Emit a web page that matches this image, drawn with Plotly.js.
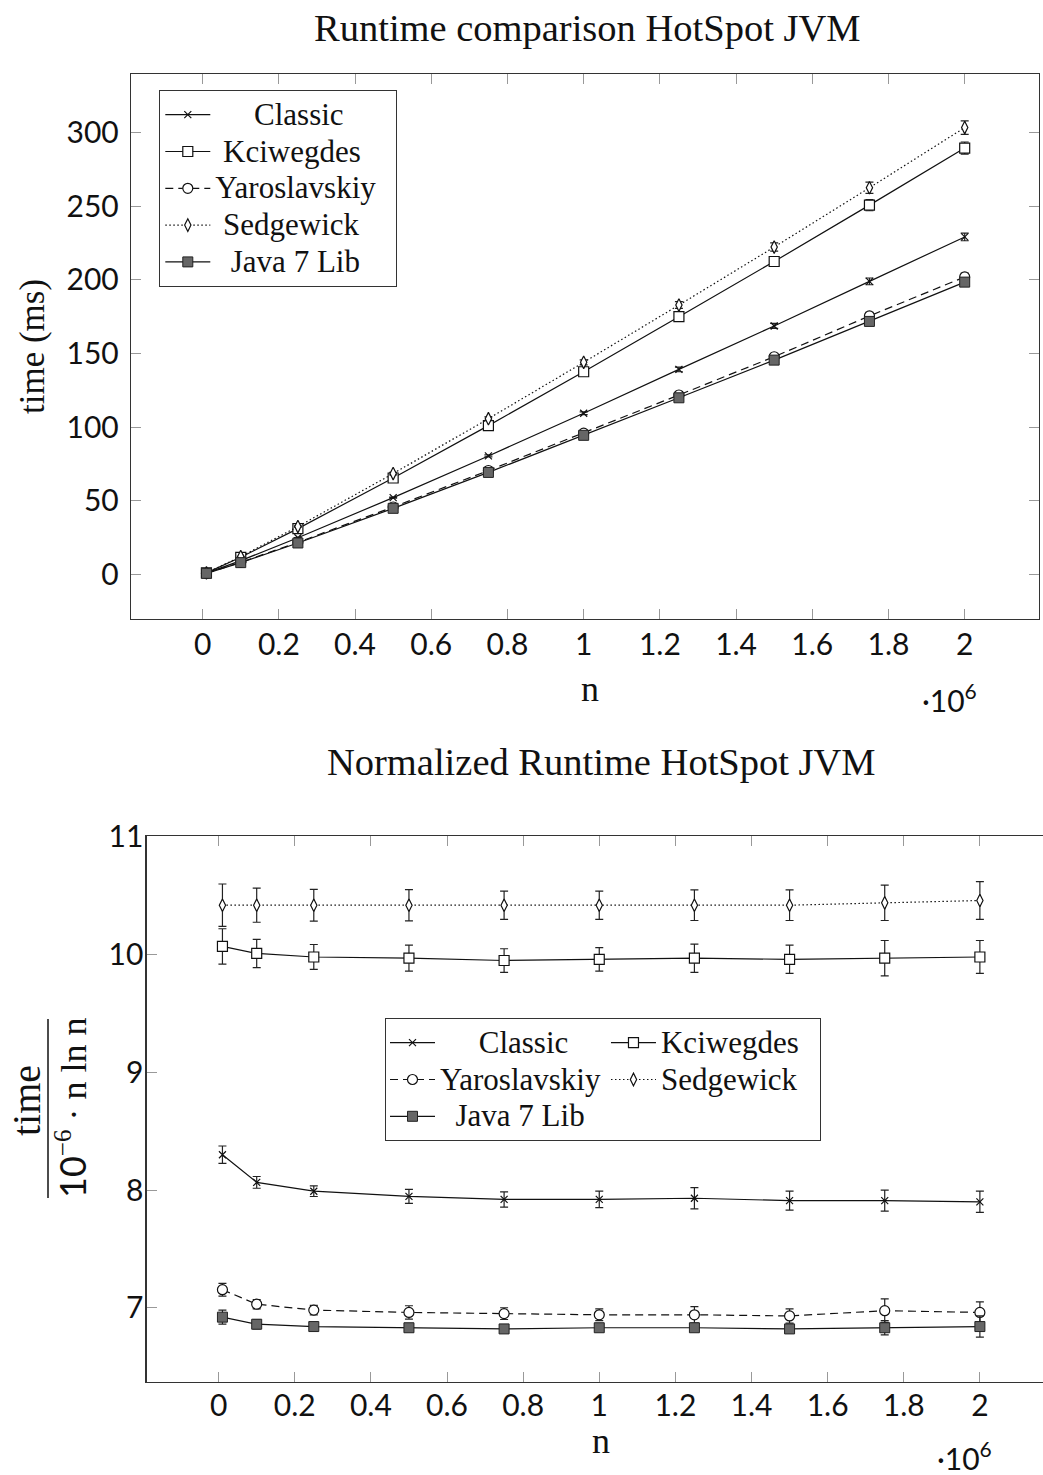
<!DOCTYPE html>
<html>
<head>
<meta charset="utf-8">
<script src="https://cdn.plot.ly/plotly-3.0.1.min.js"></script>
<style>
html, body { margin:0; padding:0; overflow:hidden; background:#fff; }
#chart { width:1100px; height:1475px; }
</style>
</head>
<body>
<div id="chart"></div>
<script>
// ---------- data ----------
const nValues = [10000, 100000, 250000, 500000, 750000, 1000000, 1250000, 1500000, 1750000, 2000000];
const xTickVals = [0, 200000, 400000, 600000, 800000, 1000000, 1200000, 1400000, 1600000, 1800000, 2000000];
const xTickText = ['0', '0.2', '0.4', '0.6', '0.8', '1', '1.2', '1.4', '1.6', '1.8', '2'];
const yTickValsTop = [0, 50, 100, 150, 200, 250, 300];
const yTickValsBottom = [7, 8, 9, 10, 11];
const seriesNames = ['Classic', 'Kciwegdes', 'Yaroslavskiy', 'Sedgewick', 'Java 7 Lib'];

// Runtime (ms)
const classicMs      = [0.76, 9.29, 24.8, 52.1, 80.4, 109.4, 139.2, 168.7, 199.0, 229.2];
const classicMsErr   = [0.01, 0.06, 0.14, 0.39, 0.66, 0.97, 1.6, 1.7, 2.3, 2.6];
const kciwegdesMs    = [0.93, 11.5, 31.0, 65.4, 101.0, 137.6, 175.0, 212.5, 250.8, 289.6];
const kciwegdesMsErr = [0.01, 0.14, 0.33, 0.72, 1.0, 1.4, 2.1, 2.6, 3.8, 4.1];
const yaroMs         = [0.66, 8.09, 21.7, 45.7, 70.5, 95.9, 121.8, 147.8, 175.5, 202.0];
const yaroMsErr      = [0.01, 0.05, 0.12, 0.37, 0.5, 0.7, 1.2, 1.3, 2.5, 2.6];
const sedgewickMs    = [0.96, 12.0, 32.4, 68.4, 105.7, 144.0, 182.9, 222.3, 262.6, 303.5];
const sedgewickMsErr = [0.02, 0.17, 0.42, 0.87, 1.2, 1.7, 2.3, 2.8, 3.8, 4.6];
const javaMs         = [0.64, 7.90, 21.25, 44.8, 69.2, 94.4, 119.9, 145.5, 171.8, 198.5];
const javaMsErr      = [0.01, 0.05, 0.09, 0.2, 0.3, 0.4, 0.5, 0.6, 1.5, 2.6];

// Normalized runtime: time / (1e-6 * n ln n)
const classicNorm      = [8.30, 8.065, 7.99, 7.946, 7.92, 7.92, 7.93, 7.91, 7.91, 7.90];
const classicNormErr   = [0.074, 0.05, 0.045, 0.06, 0.065, 0.07, 0.09, 0.08, 0.09, 0.09];
const kciwegdesNorm    = [10.07, 10.01, 9.98, 9.97, 9.95, 9.96, 9.97, 9.96, 9.97, 9.98];
const kciwegdesNormErr = [0.15, 0.12, 0.106, 0.11, 0.10, 0.10, 0.12, 0.12, 0.15, 0.14];
const yaroNorm         = [7.153, 7.03, 6.98, 6.96, 6.95, 6.94, 6.94, 6.93, 6.975, 6.96];
const yaroNormErr      = [0.054, 0.04, 0.04, 0.057, 0.05, 0.05, 0.07, 0.06, 0.10, 0.09];
const sedgewickNorm    = [10.42, 10.42, 10.42, 10.42, 10.42, 10.42, 10.42, 10.42, 10.44, 10.46];
const sedgewickNormErr = [0.18, 0.145, 0.135, 0.133, 0.12, 0.12, 0.13, 0.13, 0.15, 0.16];
const javaNorm         = [6.92, 6.86, 6.84, 6.83, 6.82, 6.83, 6.83, 6.82, 6.83, 6.84];
const javaNormErr      = [0.06, 0.04, 0.03, 0.03, 0.03, 0.03, 0.03, 0.03, 0.06, 0.09];

// ---------- styles ----------
const INK = '#111';
const SERIF = 'Liberation Serif, serif';
const SANS = 'Lato, sans-serif';
const styles = [
  { line: {color: INK, width: 1.2, dash: 'solid'},
    marker: {symbol: 'x-thin-open', size: 7, color: INK, line: {color: INK, width: 1.2}} },
  { line: {color: INK, width: 1.2, dash: 'solid'},
    marker: {symbol: 'square', size: 10, color: '#fff', line: {color: INK, width: 1.2}} },
  { line: {color: INK, width: 1.2, dash: '8px,5px'},
    marker: {symbol: 'circle', size: 10, color: '#fff', line: {color: INK, width: 1.2}} },
  { line: {color: INK, width: 1.2, dash: '1.5px,2.5px'},
    marker: {symbol: 'diamond-tall', size: 9, color: '#fff', line: {color: INK, width: 1.2}} },
  { line: {color: INK, width: 1.2, dash: 'solid'},
    marker: {symbol: 'square', size: 10, color: '#666', line: {color: '#222', width: 1}} }
];
const NB = '\u00a0';
function label(name, lead, trail) {
  return '<span style="font-size:31px">' + NB.repeat(lead) + name + trail + '</span>';
}
const padTop = [[5, ''], [1, ''], [0, NB + '\u2009'], [1, ''], [2, '']];
const padBottom = [[5, ''], [0, NB + NB], [0, ''], [0, ''], [2, '']];
const groupBottom = ['g1', 'g2', 'g1', 'g2', 'g1'];

const topY = [classicMs, kciwegdesMs, yaroMs, sedgewickMs, javaMs];
const topErr = [classicMsErr, kciwegdesMsErr, yaroMsErr, sedgewickMsErr, javaMsErr];
const botY = [classicNorm, kciwegdesNorm, yaroNorm, sedgewickNorm, javaNorm];
const botErr = [classicNormErr, kciwegdesNormErr, yaroNormErr, sedgewickNormErr, javaNormErr];

const traces = [];
for (let i = 0; i < 5; i++) {
  traces.push({
    type: 'scatter', mode: 'lines+markers', x: nValues, y: topY[i],
    name: label(seriesNames[i], padTop[i][0], padTop[i][1]),
    xaxis: 'x', yaxis: 'y', legend: 'legend',
    line: styles[i].line, marker: styles[i].marker,
    error_y: {type: 'data', array: topErr[i], visible: true, color: '#222', thickness: 1.2, width: 4}
  });
}
for (let i = 0; i < 5; i++) {
  traces.push({
    type: 'scatter', mode: 'lines+markers', x: nValues, y: botY[i],
    name: label(seriesNames[i], padBottom[i][0], padBottom[i][1]),
    xaxis: 'x2', yaxis: 'y2', legend: 'legend2', legendgroup: groupBottom[i],
    line: styles[i].line, marker: styles[i].marker,
    error_y: {type: 'data', array: botErr[i], visible: true, color: '#222', thickness: 1.2, width: 4}
  });
}

// ---------- layout ----------
const W = 1100, H = 1475;
const px = v => v / W;
const py = v => 1 - v / H;

function axisBase() {
  return {
    showgrid: false, zeroline: false, showline: true, linecolor: '#333', linewidth: 1.3,
    mirror: 'all', ticks: 'inside', ticklen: 10, tickwidth: 1, tickcolor: '#999',
    tickfont: {family: SANS, size: 30, color: INK}
  };
}

const layout = {
  width: W, height: H,
  margin: {l: 0, r: 0, t: 0, b: 0},
  paper_bgcolor: '#fff', plot_bgcolor: '#fff',
  showlegend: true,
  xaxis: Object.assign(axisBase(), {
    domain: [px(131), px(1039)], anchor: 'y',
    range: [-188000, 2195000], tickvals: xTickVals, ticktext: xTickText, ticklabelstandoff: -1
  }),
  yaxis: Object.assign(axisBase(), {
    domain: [py(619), py(74)], anchor: 'x',
    range: [-30.4, 339.9], tickvals: yTickValsTop, ticklabelstandoff: 5
  }),
  xaxis2: Object.assign(axisBase(), {
    domain: [px(146.7), px(1056)], anchor: 'y2',
    range: [-189000, 2200000], tickvals: xTickVals, ticktext: xTickText, ticklabelstandoff: -3
  }),
  yaxis2: Object.assign(axisBase(), {
    domain: [py(1382), py(836)], anchor: 'x2',
    range: [6.369, 11.008], tickvals: yTickValsBottom, ticklabelstandoff: -4
  }),
  legend: {
    x: px(159), y: py(90), xanchor: 'left', yanchor: 'top', xref: 'paper', yref: 'paper',
    orientation: 'v', bgcolor: '#fff', bordercolor: '#333', borderwidth: 1.3,
    font: {family: SERIF, size: 26, color: INK}, itemwidth: 45, traceorder: 'normal'
  },
  legend2: {
    x: px(385), y: py(1018), xanchor: 'left', yanchor: 'top', xref: 'paper', yref: 'paper',
    orientation: 'h', bgcolor: '#fff', bordercolor: '#333', borderwidth: 1.3,
    font: {family: SERIF, size: 26, color: INK}, itemwidth: 45, traceorder: 'grouped', tracegroupgap: 0
  },
  annotations: [
    {text: 'Runtime comparison HotSpot JVM', x: px(587), y: py(28), xref: 'paper', yref: 'paper',
     showarrow: false, xanchor: 'center', yanchor: 'middle', font: {family: SERIF, size: 38.5, color: INK}},
    {text: 'Normalized Runtime HotSpot JVM', x: px(601), y: py(762), xref: 'paper', yref: 'paper',
     showarrow: false, xanchor: 'center', yanchor: 'middle', font: {family: SERIF, size: 38.5, color: INK}},
    {text: 'time (ms)', x: px(32), y: py(347), xref: 'paper', yref: 'paper', textangle: -90,
     showarrow: false, xanchor: 'center', yanchor: 'middle', font: {family: SERIF, size: 35, color: INK}},
    {text: 'n', x: px(590), y: py(689), xref: 'paper', yref: 'paper',
     showarrow: false, xanchor: 'center', yanchor: 'middle', font: {family: SERIF, size: 36, color: INK}},
    {text: '·10<sup>6</sup>', x: px(949), y: py(698), xref: 'paper', yref: 'paper',
     showarrow: false, xanchor: 'center', yanchor: 'middle', font: {family: SANS, size: 30, color: INK}},
    {text: 'n', x: px(601), y: py(1441), xref: 'paper', yref: 'paper',
     showarrow: false, xanchor: 'center', yanchor: 'middle', font: {family: SERIF, size: 36, color: INK}},
    {text: '·10<sup>6</sup>', x: px(964), y: py(1456), xref: 'paper', yref: 'paper',
     showarrow: false, xanchor: 'center', yanchor: 'middle', font: {family: SANS, size: 30, color: INK}},
    {text: 'time', x: px(26), y: py(1101), xref: 'paper', yref: 'paper', textangle: -90,
     showarrow: false, xanchor: 'center', yanchor: 'middle', font: {family: SERIF, size: 40, color: INK}},
    {text: '<span style="font-family:Lato">10</span><sup>−6</sup> · n ln n', x: px(71), y: py(1108), xref: 'paper', yref: 'paper', textangle: -90,
     showarrow: false, xanchor: 'center', yanchor: 'middle', font: {family: SERIF, size: 36, color: INK}}
  ],
  shapes: [
    {type: 'line', xref: 'paper', yref: 'paper', x0: px(48), x1: px(48), y0: py(1019), y1: py(1198),
     line: {color: INK, width: 1.5}}
  ]
};

Plotly.newPlot('chart', traces, layout, {displayModeBar: false, staticPlot: true});
</script>
</body>
</html>
